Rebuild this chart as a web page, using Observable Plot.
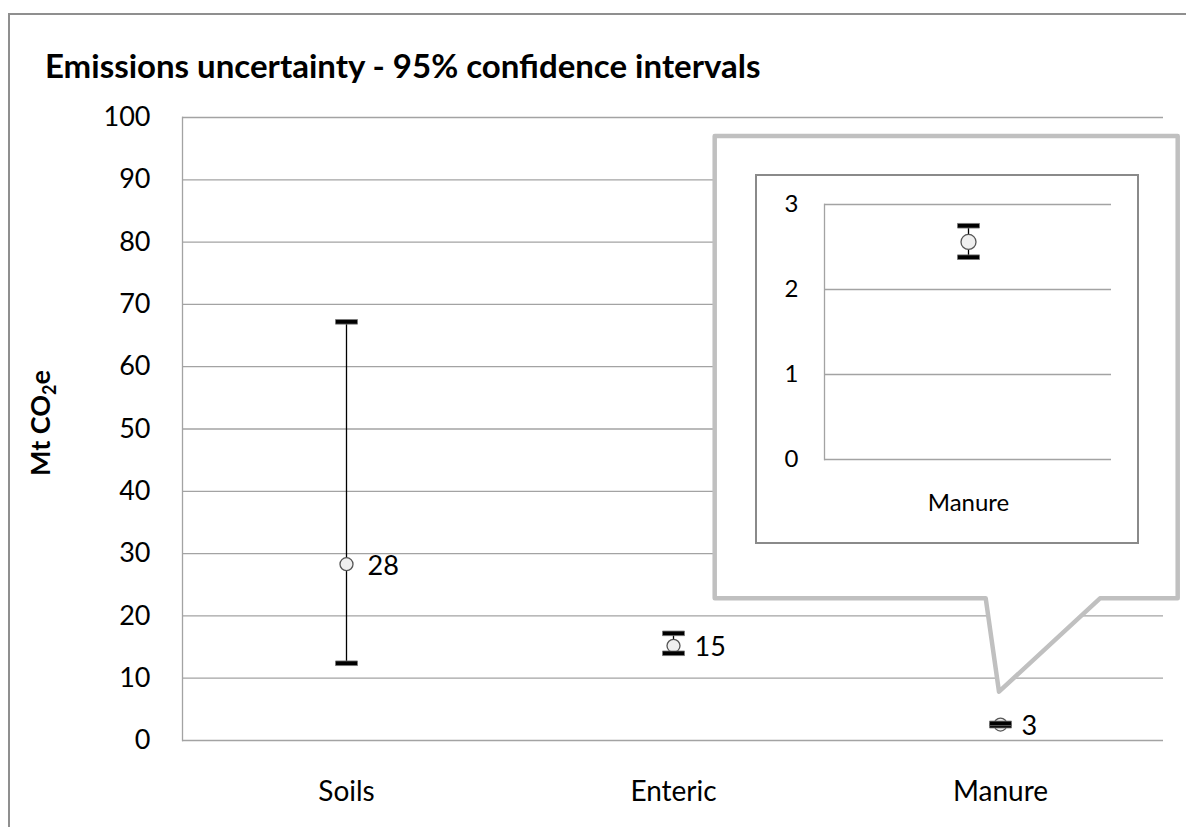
<!DOCTYPE html>
<html>
<head>
<meta charset="utf-8">
<script src="https://cdn.jsdelivr.net/npm/d3@7"></script>
<script src="https://cdn.jsdelivr.net/npm/@observablehq/plot@0.6"></script>
<style>
  html, body { margin: 0; padding: 0; background: #fff; }
  body { width: 1186px; height: 827px; overflow: hidden; position: relative; font-family: Lato, "Open Sans", sans-serif; }
  #frame { position: absolute; left: 8px; top: 13px; width: 1300px; height: 1000px; border: 2px solid #8f8f8f; }
  .abs { position: absolute; left: 0; top: 0; }
  #insetBox { position: absolute; left: 755px; top: 174px; width: 384px; height: 370px; border: 2px solid #8a8a8a; box-sizing: border-box; background: #fff; }
</style>
</head>
<body>
<div id="frame"></div>
<div id="main" class="abs"></div>
<svg id="overlay" class="abs" width="1186" height="827" style="overflow:visible">
  <text x="45" y="78" font-family="Lato" font-weight="bold" font-size="33" fill="#000">Emissions uncertainty - 95% confidence intervals</text>
  <text transform="translate(50,423) rotate(-90)" text-anchor="middle" font-family="Lato" font-weight="bold" font-size="27" fill="#000">Mt CO<tspan font-size="18" dy="6">2</tspan><tspan dy="-6">e</tspan></text>
  <path d="M714.7,136 L1177.7,136 L1177.7,598.3 L1100,598.3 L999,691.7 L985.7,598.3 L714.7,598.3 Z" fill="#fff" stroke="#c0c0c0" stroke-width="4.5" stroke-linejoin="round"/>
</svg>
<div id="insetBox"></div>
<div id="inset" class="abs" style="left:757px; top:176px;"></div>
<script>
// ---- data ----
const categories = ["Soils", "Enteric", "Manure"];
const values = [28.3, 15.2, 2.56];
const lower = [12.4, 14.0, 2.38];
const upper = [67.2, 17.2, 2.75];
const yTicks = [0, 10, 20, 30, 40, 50, 60, 70, 80, 90, 100];
const insetCategories = ["Manure"];
const insetTicks = [0, 1, 2, 3];

const rows = categories.map((c, i) => ({cat: c, value: values[i], lo: lower[i], hi: upper[i]}));
const insetRows = rows.filter(d => insetCategories.includes(d.cat));

const grid = "#a3a3a3";
const fmt = d3.format(".0f");

// error-bar cap: a flat filled bar, 22 wide
const cap = {
  draw(ctx) {
    ctx.moveTo(-11, -2.3); ctx.lineTo(11, -2.3); ctx.lineTo(11, 2.3); ctx.lineTo(-11, 2.3); ctx.closePath();
  }
};

function errorMarks(data, r) {
  return [
    Plot.ruleX(data, {x: "cat", y1: "lo", y2: "hi", stroke: "#000", strokeWidth: 1.3}),
    Plot.dot(data, {x: "cat", y: "value", r, fill: "#efefef", stroke: "#555", strokeWidth: 1.3}),
    Plot.dot(data, {x: "cat", y: "lo", symbol: cap, r: 5, fill: "#000", stroke: "#777", strokeWidth: 0.8}),
    Plot.dot(data, {x: "cat", y: "hi", symbol: cap, r: 5, fill: "#000", stroke: "#777", strokeWidth: 0.8})
  ];
}

const main = Plot.plot({
  width: 1186,
  height: 827,
  marginLeft: 182,
  marginRight: 23,
  marginTop: 117,
  marginBottom: 87,
  style: {fontFamily: "Lato", fontSize: "27px", color: "#000", background: "transparent"},
  x: {type: "point", domain: categories, padding: 0.5},
  y: {domain: [0, 100]},
  marks: [
    Plot.gridY(yTicks, {stroke: grid, strokeOpacity: 1, strokeWidth: 1.3}),
    Plot.frame({anchor: "left", stroke: grid, strokeWidth: 1.3}),
    Plot.axisY(yTicks, {tickSize: 0, tickPadding: 32, fontSize: 27, label: null}),
    Plot.axisX({tickSize: 0, tickPadding: 41, fontSize: 28, label: null}),
    ...errorMarks(rows, 6.5),
    Plot.text(rows, {x: "cat", y: "value", text: d => fmt(d.value), dx: 21, dy: 2, textAnchor: "start", fontSize: 27, fill: "#000"})
  ]
});
document.getElementById("main").appendChild(main);

const inset = Plot.plot({
  width: 382,
  height: 366,
  marginLeft: 67,
  marginRight: 28,
  marginTop: 28,
  marginBottom: 83,
  style: {fontFamily: "Lato", fontSize: "24px", color: "#000", background: "transparent"},
  x: {type: "point", domain: insetCategories, padding: 0.5},
  y: {domain: [0, 3]},
  marks: [
    Plot.gridY(insetTicks, {stroke: grid, strokeOpacity: 1, strokeWidth: 1.3}),
    Plot.frame({anchor: "left", stroke: grid, strokeWidth: 1.3}),
    Plot.axisY(insetTicks, {tickSize: 0, tickPadding: 26, fontSize: 24, label: null, tickFormat: d3.format("d")}),
    Plot.axisX({tickSize: 0, tickPadding: 34, fontSize: 24, label: null}),
    ...errorMarks(insetRows, 7.5)
  ]
});
document.getElementById("inset").appendChild(inset);
</script>
</body>
</html>
